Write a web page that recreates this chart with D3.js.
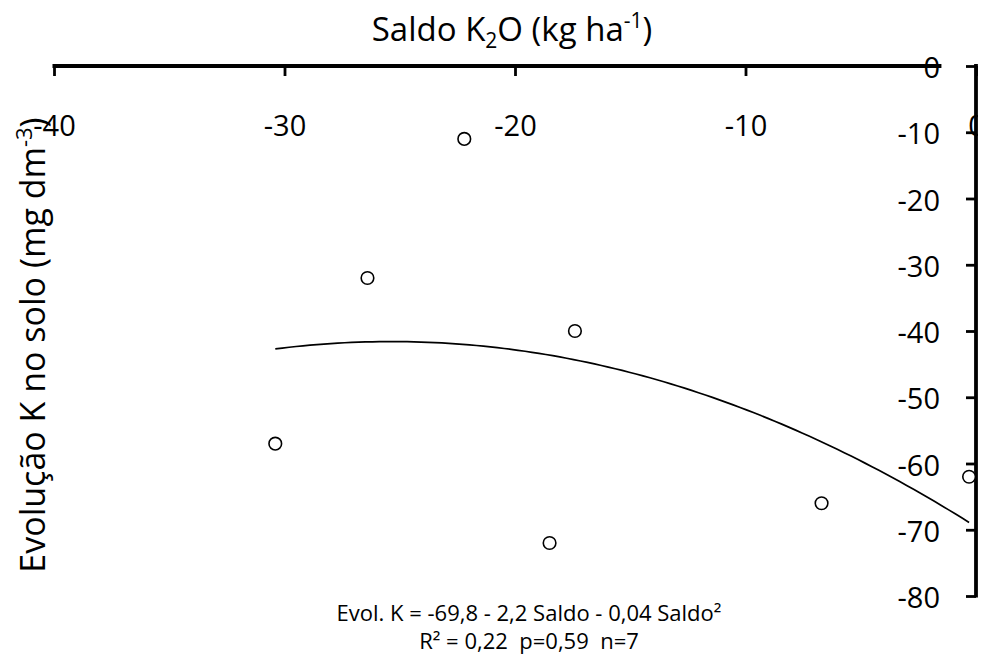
<!DOCTYPE html>
<html>
<head>
<meta charset="utf-8">
<script src="https://cdn.jsdelivr.net/npm/d3@7"></script>
<style>
  body { margin: 0; background: #fff; }
  svg { display: block; }
  text { font-family: 'Open Sans', 'Noto Sans', sans-serif; fill: #000; }
</style>
</head>
<body>
<svg id="chart" width="983" height="668"></svg>
<script>
// Observed K balance (kg ha-1 K2O) and change in soil K (mg dm-3)
const saldo = [-30.4, -26.4, -22.2, -18.5, -17.4, -6.7, -0.3];
const evolK = [-57, -32, -11, -72, -40, -66, -62];

const xTicks = [-40, -30, -20, -10, 0];
const yTicks = [0, -10, -20, -30, -40, -50, -60, -70, -80];
const xDomain = [-40, 0];
const yDomain = [-80, 0];
const xAxisEnd = -1.5; // the top axis rule stops just short of the zero column

const equationLines = [
  "Evol. K = -69,8 - 2,2 Saldo - 0,04 Saldo²",
  "R² = 0,22  p=0,59  n=7"
];

const svg = d3.select("#chart");
const H = 668;

const x = d3.scaleLinear().domain(xDomain).range([54, 976]);
const y = d3.scaleLinear().domain(yDomain).range([596, 66]);

svg.append("defs").append("clipPath").attr("id", "page")
  .append("rect").attr("x", 0).attr("y", 0).attr("width", 978).attr("height", H);

const root = svg.append("g").attr("clip-path", "url(#page)");

// Least-squares quadratic fit y = a + b x + c x^2
function quadFit(xs, ys) {
  const n = xs.length;
  const s = [0, 0, 0, 0, 0], t = [0, 0, 0];
  for (let i = 0; i < n; i++) {
    for (let k = 0; k < 5; k++) s[k] += Math.pow(xs[i], k);
    for (let k = 0; k < 3; k++) t[k] += ys[i] * Math.pow(xs[i], k);
  }
  const M = [[s[0], s[1], s[2], t[0]], [s[1], s[2], s[3], t[1]], [s[2], s[3], s[4], t[2]]];
  for (let i = 0; i < 3; i++) {
    let p = i;
    for (let r = i + 1; r < 3; r++) if (Math.abs(M[r][i]) > Math.abs(M[p][i])) p = r;
    [M[i], M[p]] = [M[p], M[i]];
    for (let r = 0; r < 3; r++) {
      if (r === i) continue;
      const f = M[r][i] / M[i][i];
      for (let c = i; c < 4; c++) M[r][c] -= f * M[i][c];
    }
  }
  return [M[0][3] / M[0][0], M[1][3] / M[1][1], M[2][3] / M[2][2]];
}

const [a, b, c] = quadFit(saldo, evolK);
const [xmin, xmax] = d3.extent(saldo);
const curve = d3.range(0, 101).map(i => {
  const xv = xmin + (xmax - xmin) * i / 100;
  return [xv, a + b * xv + c * xv * xv];
});

const tickFont = 29;

// Top x axis (ticks point down into the plot, labels well below)
const xAxis = d3.axisBottom(x).tickValues(xTicks).tickSize(10).tickPadding(39);
const gx = root.append("g").attr("transform", `translate(0,${y(0)})`).call(xAxis);
gx.select(".domain").remove();
gx.selectAll(".tick line").attr("stroke", "#000").attr("stroke-width", 2.8);
gx.selectAll(".tick text").attr("font-size", tickFont).attr("fill", "#000")
  .style("font-family", "'Open Sans', sans-serif").text(d => String(d));
root.append("line")
  .attr("x1", x(xDomain[0]) - 1.5).attr("x2", x(xAxisEnd))
  .attr("y1", y(0)).attr("y2", y(0))
  .attr("stroke", "#000").attr("stroke-width", 3.8);

// Right y axis (ticks point left)
const yAxis = d3.axisLeft(y).tickValues(yTicks).tickSize(10).tickPadding(26);
const gy = root.append("g").attr("transform", `translate(${x(0)},0)`).call(yAxis);
gy.select(".domain").remove();
gy.selectAll(".tick line").attr("stroke", "#000").attr("stroke-width", 2.8);
gy.selectAll(".tick text").attr("font-size", tickFont).attr("fill", "#000")
  .attr("dy", "0.4em")
  .style("font-family", "'Open Sans', sans-serif").text(d => String(d));
root.append("line")
  .attr("x1", x(0)).attr("x2", x(0))
  .attr("y1", y(0) - 1.9).attr("y2", y(yDomain[0]) + 1.4)
  .attr("stroke", "#000").attr("stroke-width", 3.8);

// Fitted curve
root.append("path")
  .datum(curve)
  .attr("fill", "none").attr("stroke", "#000").attr("stroke-width", 1.7)
  .attr("d", d3.line().x(d => x(d[0])).y(d => y(d[1])));

// Observations
root.selectAll("circle.obs")
  .data(saldo.map((s, i) => [s, evolK[i]]))
  .join("circle").attr("class", "obs")
  .attr("cx", d => x(d[0])).attr("cy", d => y(d[1])).attr("r", 6.3)
  .attr("fill", "#fff").attr("stroke", "#000").attr("stroke-width", 1.6);

// Axis titles
const xt = root.append("text").attr("x", 512).attr("y", 41)
  .attr("text-anchor", "middle").attr("font-size", 33);
xt.append("tspan").text("Saldo K");
xt.append("tspan").attr("font-size", 21).attr("dy", 7).text("2");
xt.append("tspan").attr("dy", -7).text("O (kg ha");
xt.append("tspan").attr("font-size", 21).attr("dy", -13).text("-1");
xt.append("tspan").attr("dy", 13).text(")");

const yt = root.append("text")
  .attr("transform", "translate(45,345) rotate(-90)")
  .attr("text-anchor", "middle").attr("font-size", 34);
yt.append("tspan").text("Evolução K no solo (mg dm");
yt.append("tspan").attr("font-size", 22).attr("dy", -13).text("-3");
yt.append("tspan").attr("dy", 13).text(")");

// Regression equation
root.selectAll("text.eq")
  .data(equationLines)
  .join("text").attr("class", "eq")
  .attr("x", 529).attr("y", (d, i) => 621 + i * 28)
  .attr("text-anchor", "middle").attr("font-size", 22)
  .style("white-space", "pre")
  .text(d => d);
</script>
</body>
</html>
